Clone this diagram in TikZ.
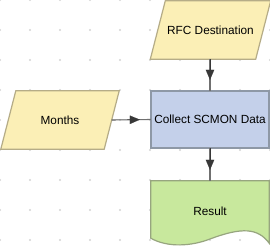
\documentclass[tikz,border=0pt]{standalone}
\usepackage{fontspec}
\setmainfont{Liberation Sans}
\usetikzlibrary{calc,arrows.meta,backgrounds}
\definecolor{dotc}{HTML}{D4D4D4}
\definecolor{yfill}{HTML}{FBEFB6}
\definecolor{yline}{HTML}{B5AC87}
\definecolor{bfill}{HTML}{C4D0EA}
\definecolor{bline}{HTML}{8E98A6}
\definecolor{gfill}{HTML}{C8E89D}
\definecolor{gline}{HTML}{97A57F}
\definecolor{conc}{HTML}{707070}
\definecolor{tipc}{HTML}{383838}
\tikzset{
  txt/.style={inner sep=0pt, font=\fontsize{11.8}{14}\selectfont, text=black},
  yshape/.style={fill=yfill, draw=yline, line width=1.2pt},
  bshape/.style={fill=bfill, draw=bline, line width=2pt},
  gshape/.style={fill=gfill, draw=gline, line width=1.2pt},
  conn/.style={draw=conc, line width=1.1pt},
  tip/.style={draw=tipc, line width=0.1pt, -{Triangle[length=10pt,width=8.5pt,fill=tipc]}, shorten >=11pt}
}
\begin{document}
\begin{tikzpicture}[x=1pt,y=-1pt]
\useasboundingbox (0,0) rectangle (270,246);
% nodes
\node[txt, minimum width=105pt, minimum height=58pt] (rfc) at (210.5,30) {RFC Destination};
\node[txt, minimum width=103pt, minimum height=58pt] (months) at (60,120) {Months};
\node[txt, minimum width=118pt, minimum height=57pt] (collect) at (210,119.5) {Collect SCMON Data};
\node[txt, minimum width=118pt, minimum height=60pt, text depth=0pt] (result) at (210,211) {Result};
% shapes behind the texts
\begin{scope}[on background layer]
\fill[white] (0,0) rectangle (270,246);
\foreach \i in {0,...,9}{\foreach \j in {0,...,8}{\fill[dotc] (30*\i,30*\j) circle (1.1pt);}}
\draw[yshape] ($(rfc.north west)+(7.5,0)$) -- ($(rfc.north east)+(7.5,0)$) -- ($(rfc.south east)+(-7.5,0)$) -- ($(rfc.south west)+(-7.5,0)$) -- cycle;
\draw[yshape] ($(months.north west)+(7.5,0)$) -- ($(months.north east)+(7.5,0)$) -- ($(months.south east)+(-7.5,0)$) -- ($(months.south west)+(-7.5,0)$) -- cycle;
\draw[bshape] (collect.north west) rectangle (collect.south east);
\draw[gshape] (result.north west) -- (result.north east) -- ($(result.south east)+(0,2)$)
  .. controls (258,228) and (242,227) .. (210,239)
  .. controls (192,246) and (168,248) .. ($(result.south west)+(0,-3)$) -- cycle;
\end{scope}
% connectors
\draw[conn] (rfc.south -| collect.north) -- (collect.north);
\draw[tip] (rfc.south -| collect.north) -- (collect.north);
\draw[conn] (months.east) -- (collect.west);
\draw[tip] (months.east) -- (collect.west);
\draw[conn] (collect.south) -- (result.north);
\draw[tip] (collect.south) -- (result.north);
\end{tikzpicture}
\end{document}
